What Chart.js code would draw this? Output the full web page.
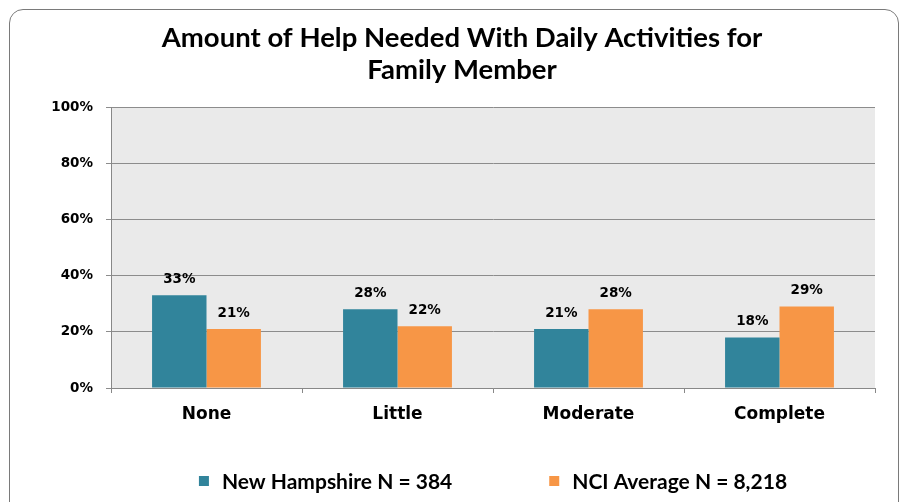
<!DOCTYPE html>
<html>
<head>
<meta charset="utf-8">
<script src="https://cdn.jsdelivr.net/npm/chart.js@4/dist/chart.umd.min.js"></script>
<style>
  html, body { margin:0; padding:0; background:#fff; }
  #wrap { position:relative; width:907px; height:502px; overflow:hidden; }
  #frame { position:absolute; left:9px; top:9px; width:888px; height:560px;
           border:1.5px solid #7a7a7a; border-radius:14px; pointer-events:none; }
  canvas { position:absolute; left:0; top:0; }
</style>
</head>
<body>
<div id="wrap">
  <canvas id="c" width="907" height="502"></canvas>
  <div id="frame"></div>
</div>
<script>
const categories = ["None", "Little", "Moderate", "Complete"];
const nhValues = [33, 28, 21, 18];
const nciValues = [21, 22, 28, 29];
const seriesNames = ["New Hampshire N = 384", "NCI Average N = 8,218"];
const seriesColors = ["#31849B", "#F79646"];
const yTicks = [0, 20, 40, 60, 80, 100];

const $ = (id)=>document.getElementById(id);
const tickFont = { family: "DejaVu Sans", weight: "bold", size: 13.5 };

// light gray plot background
const plotBg = {
  id: "plotBg",
  beforeDraw(chart){
    const { ctx, chartArea: a } = chart;
    ctx.save();
    ctx.fillStyle = "#EAEAEA";
    ctx.fillRect(a.left, a.top, a.right - a.left, a.bottom - a.top);
    ctx.restore();
  }
};

// percent labels above bars
const barLabels = {
  id: "barLabels",
  afterDatasetsDraw(chart){
    const ctx = chart.ctx;
    ctx.save();
    ctx.font = "bold 13.5px 'DejaVu Sans'";
    ctx.fillStyle = "#000";
    ctx.textAlign = "center";
    ctx.textBaseline = "middle";
    chart.data.datasets.forEach((ds, i)=>{
      chart.getDatasetMeta(i).data.forEach((bar, j)=>{
        ctx.fillText(ds.data[j] + "%", bar.x, bar.y - 16);
      });
    });
    ctx.restore();
  }
};

// legend drawn under the axis, wide gap between the two items
const bottomLegend = {
  id: "bottomLegend",
  afterDraw(chart){
    const { ctx, chartArea: a } = chart;
    ctx.save();
    ctx.font = "bold 21px Lato";
    ctx.textBaseline = "middle";
    const box = 10, gapText = 13, gapItem = 97, y = 481;
    const widths = chart.data.datasets.map(ds => box + gapText + ctx.measureText(ds.label).width);
    const total = widths.reduce((s, w)=>s + w, 0) + gapItem * (widths.length - 1);
    let x = (a.left + a.right) / 2 - total / 2;
    chart.data.datasets.forEach((ds, i)=>{
      ctx.fillStyle = ds.backgroundColor;
      ctx.fillRect(x, y - box / 2, box, box);
      ctx.fillStyle = "#000";
      ctx.fillText(ds.label, x + box + gapText, y + 1);
      x += widths[i] + gapItem;
    });
    ctx.restore();
  }
};

new Chart($("c").getContext("2d"), {
  type: "bar",
  data: {
    labels: categories,
    datasets: [
      { label: seriesNames[0], data: nhValues, backgroundColor: seriesColors[0] },
      { label: seriesNames[1], data: nciValues, backgroundColor: seriesColors[1] }
    ]
  },
  options: {
    responsive: false,
    animation: false,
    layout: { padding: { left: 49, right: 32, top: 22, bottom: 60 } },
    datasets: { bar: { categoryPercentage: 0.57, barPercentage: 1.0 } },
    plugins: {
      legend: { display: false },
      tooltip: { enabled: false },
      title: {
        display: true,
        text: ["Amount of Help Needed With Daily Activities for", "Family Member"],
        color: "#000",
        font: { family: "Lato", weight: "bold", size: 27.5, lineHeight: 1.165 },
        padding: { top: 0, bottom: 21 }
      }
    },
    scales: {
      x: {
        grid: { drawOnChartArea: false, drawTicks: true, tickLength: 5, color: "#888", offset: true },
        border: { color: "#888" },
        ticks: { color: "#000", font: { family: "DejaVu Sans", weight: "bold", size: 17 }, padding: 11 },
        afterFit(s){ s.height = 54; }
      },
      y: {
        min: 0, max: 100,
        afterBuildTicks(s){ s.ticks = yTicks.map(v=>({ value: v })); },
        grid: { color: "#8C8C8C", tickLength: 5 },
        border: { color: "#888" },
        ticks: { color: "#000", font: tickFont, padding: 13, callback: v => v + "%" },
        afterFit(s){ s.width = 62; }
      }
    }
  },
  plugins: [plotBg, barLabels, bottomLegend]
});
</script>
</body>
</html>
